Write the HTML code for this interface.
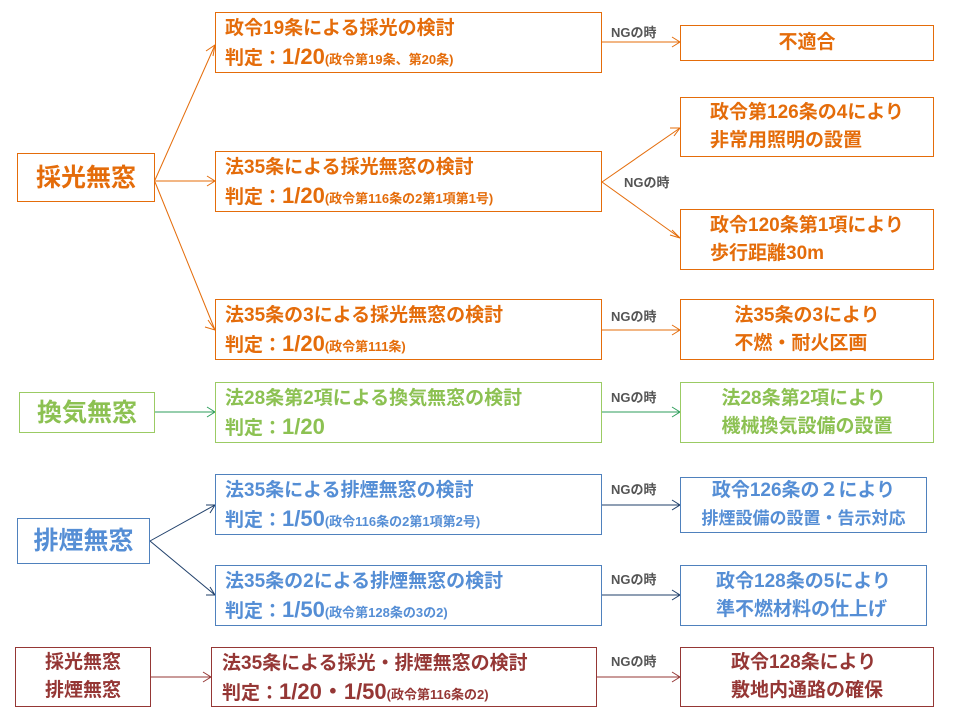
<!DOCTYPE html>
<html><head><meta charset="utf-8"><style>
body{margin:0;width:960px;height:720px;background:#fff;position:relative;overflow:hidden;font-family:"Liberation Sans","Noto Sans CJK JP",sans-serif;font-weight:bold}
.b{position:absolute;box-sizing:border-box;border:1.5px solid;background:#fff}
.l{padding:2px 0 0 9px;font-size:19px;line-height:28px;white-space:nowrap}
.c{display:flex;flex-direction:column;justify-content:center;align-items:center;font-size:19px;line-height:28px;white-space:nowrap}
.s{font-size:13px}
.n{font-size:22px}
.o{border-color:#E46C0A;color:#E46C0A}
.g{border-color:#9BCB64;color:#8CC152}
.bl{border-color:#4F81BD;color:#558ED5}
.r{border-color:#953735;color:#953735}
.ng{position:absolute;font-size:13px;color:#555;font-weight:bold}
.big{font-size:25px}
svg{position:absolute;left:0;top:0}
</style></head><body>
<svg width="960" height="720" fill="none" stroke-width="1">
<g stroke="#E46C0A">
<path d="M155 180L215 45M155 181H215M155 182L215 330M602 42H680M602 182L680 128M602 182L680 238M602 330H680"/>
<path d="M206 51L215 45 213 56M207 176L215 181 207 186M208 320L215 330 205 327M672 37L680 42 672 47M670 128L680 128 674 136M670 235L680 238 672 230M672 325L680 330 672 335"/>
</g>
<g stroke="#2E9E5B"><path d="M155 412H215M602 412H680M207 407L215 412 207 417M672 407L680 412 672 417"/></g>
<g stroke="#1F3F6A"><path d="M150 541L215 505M150 541L215 595M602 505H680M602 595H680M206 505L215 505 210 513M210 587L215 595 206 595M672 500L680 505 672 510M672 590L680 595 672 600"/></g>
<g stroke="#953735"><path d="M151 677H211M597 677H680M203 672L211 677 203 682M672 672L680 677 672 682"/></g>
</svg>

<div class="b o c big" style="left:17px;top:153px;width:138px;height:49px">採光無窓</div>
<div class="b o l" style="left:215px;top:12px;width:387px;height:61px">政令19条による採光の検討<br>判定：<span class="n">1/20</span><span class="s">(政令第19条、第20条)</span></div>
<div class="b o l" style="left:215px;top:151px;width:387px;height:61px">法35条による採光無窓の検討<br>判定：<span class="n">1/20</span><span class="s">(政令第116条の2第1項第1号)</span></div>
<div class="b o l" style="left:215px;top:299px;width:387px;height:61px">法35条の3による採光無窓の検討<br>判定：<span class="n">1/20</span><span class="s">(政令第111条)</span></div>
<div class="b o c" style="left:680px;top:25px;width:254px;height:36px">不適合</div>
<div class="b o c" style="left:680px;top:97px;width:254px;height:60px">政令第126条の4により<br>非常用照明の設置</div>
<div class="b o c" style="left:680px;top:209px;width:254px;height:61px">政令120条第1項により<br>歩行距離30m</div>
<div class="b o c" style="left:680px;top:299px;width:254px;height:61px">法35条の3により<br>不燃・耐火区画</div>
<div class="ng" style="left:611px;top:22px">NGの時</div>
<div class="ng" style="left:624px;top:172px">NGの時</div>
<div class="ng" style="left:611px;top:306px">NGの時</div>

<div class="b g c big" style="left:19px;top:392px;width:136px;height:41px">換気無窓</div>
<div class="b g l" style="left:215px;top:382px;width:387px;height:61px">法28条第2項による換気無窓の検討<br>判定：<span class="n">1/20</span></div>
<div class="b g c" style="left:680px;top:382px;width:254px;height:61px">法28条第2項により<br>機械換気設備の設置</div>
<div class="ng" style="left:611px;top:387px">NGの時</div>

<div class="b bl c big" style="left:17px;top:518px;width:133px;height:46px">排煙無窓</div>
<div class="b bl l" style="left:215px;top:474px;width:387px;height:61px">法35条による排煙無窓の検討<br>判定：<span class="n">1/50</span><span class="s">(政令116条の2第1項第2号)</span></div>
<div class="b bl l" style="left:215px;top:565px;width:387px;height:61px">法35条の2による排煙無窓の検討<br>判定：<span class="n">1/50</span><span class="s">(政令第128条の3の2)</span></div>
<div class="b bl c" style="left:680px;top:477px;width:247px;height:56px">政令126条の２により<br><span style="font-size:17px">排煙設備の設置・告示対応</span></div>
<div class="b bl c" style="left:680px;top:565px;width:247px;height:61px">政令128条の5により<br>準不燃材料の仕上げ</div>
<div class="ng" style="left:611px;top:479px">NGの時</div>
<div class="ng" style="left:611px;top:569px">NGの時</div>

<div class="b r c" style="left:15px;top:647px;width:136px;height:60px">採光無窓<br>排煙無窓</div>
<div class="b r l" style="left:211px;top:647px;width:386px;height:60px;padding-left:10px">法35条による採光・排煙無窓の検討<br>判定：<span class="n">1/20・1/50</span><span class="s">(政令第116条の2)</span></div>
<div class="b r c" style="left:680px;top:647px;width:254px;height:60px">政令128条により<br>敷地内通路の確保</div>
<div class="ng" style="left:611px;top:651px">NGの時</div>
</body></html>
